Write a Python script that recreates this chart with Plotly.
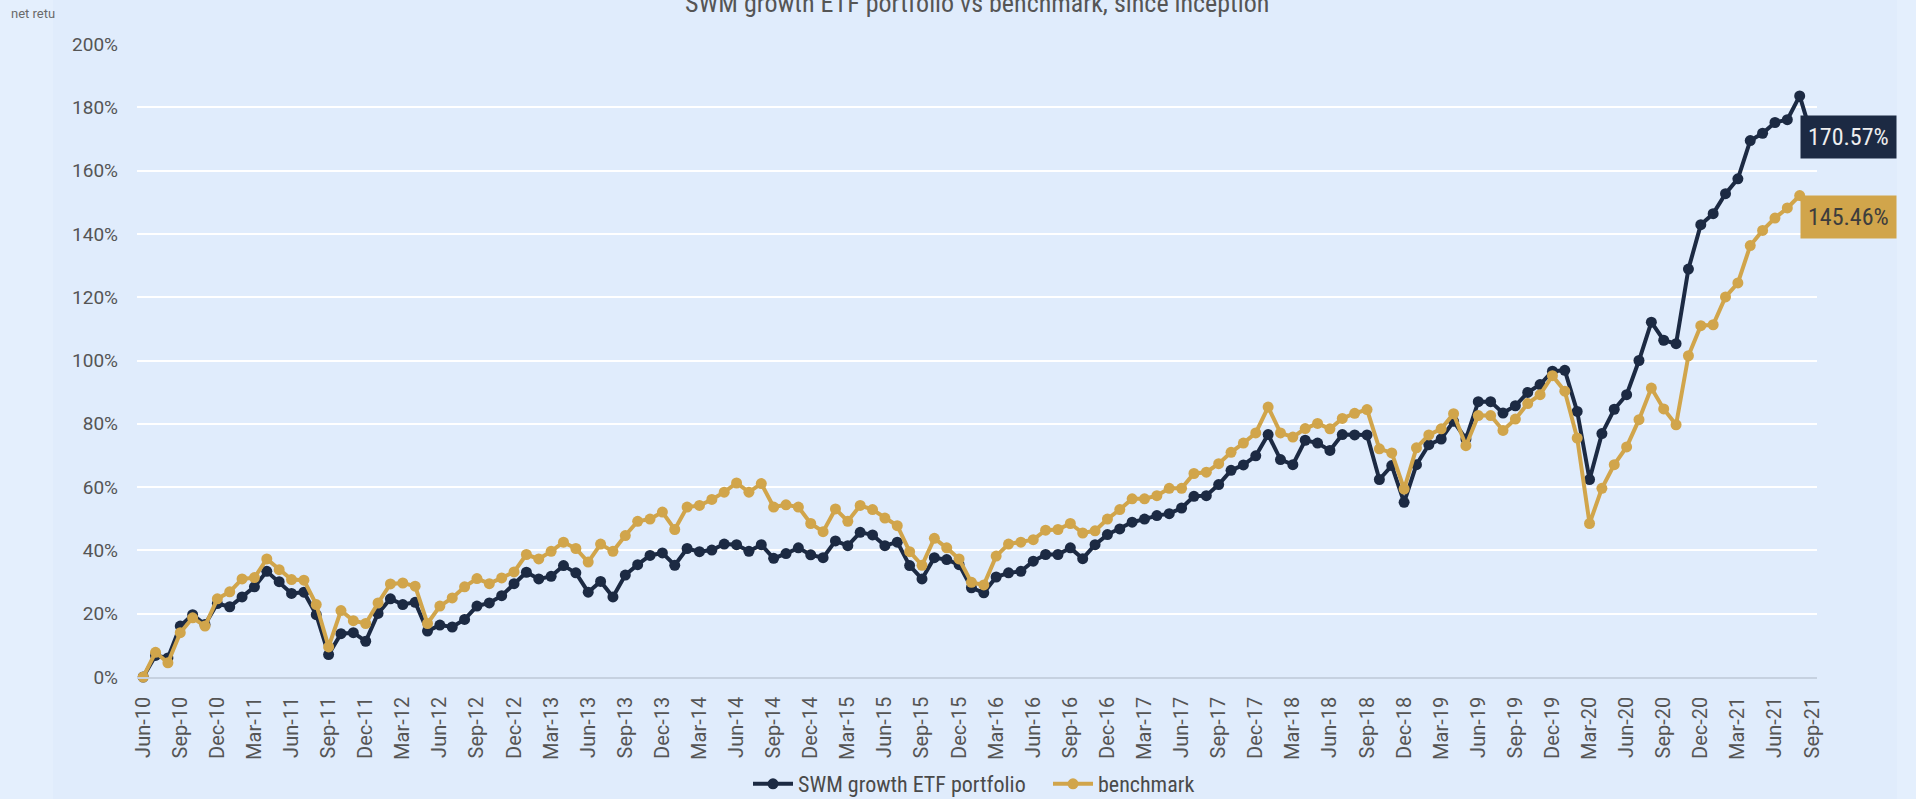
import pandas as pd
import plotly.graph_objects as go

months = list(pd.date_range("2010-06-01", periods=136, freq="MS").strftime("%b-%y"))
tick_labels = months[::3]

swm = [
    0, 6.8, 6.0, 16.1, 19.7, 16.6, 23.2, 22.2, 25.3, 28.5,
    33.4, 30.1, 26.4, 26.8, 19.7, 7.1, 13.7, 14.0, 11.3, 20.1,
    24.7, 22.9, 23.6, 14.5, 16.4, 15.8, 18.2, 22.4, 23.4, 25.7,
    29.5, 33.1, 31.0, 31.8, 35.2, 32.9, 26.8, 30.2, 25.3, 32.2,
    35.5, 38.4, 39.2, 35.3, 40.6, 39.6, 40.1, 42.0, 41.8, 39.7,
    41.8, 37.5, 39.0, 40.8, 38.6, 37.7, 43.0, 41.5, 45.7, 44.9,
    41.5, 42.6, 35.2, 31.0, 37.7, 37.1, 35.5, 28.2, 26.6, 31.6,
    32.9, 33.4, 36.6, 38.7, 38.7, 40.8, 37.4, 41.8, 45.0, 46.8,
    48.9, 49.9, 51.0, 51.6, 53.4, 57.1, 57.3, 60.8, 65.3, 67.0,
    69.9, 76.6, 68.7, 67.1, 74.8, 73.9, 71.6, 76.6, 76.5, 76.5,
    62.4, 66.8, 55.2, 67.1, 73.4, 75.2, 80.8, 75.2, 87.0, 87.0,
    83.4, 85.7, 89.9, 92.4, 96.6, 96.9, 83.9, 62.4, 76.9, 84.6,
    89.2, 100.0, 112.1, 106.4, 105.3, 128.9, 142.9, 146.4, 152.7, 157.4,
    169.5, 171.8, 175.2, 176.1, 183.6, 170.57,
]

benchmark = [
    0, 7.8, 4.5, 14.0, 18.7, 16.1, 24.7, 26.9, 31.0, 31.4,
    37.3, 33.9, 30.8, 30.6, 22.9, 9.5, 21.0, 17.8, 16.9, 23.4,
    29.4, 29.7, 28.7, 16.9, 22.4, 25.0, 28.5, 31.1, 29.5, 31.3,
    33.2, 38.7, 37.3, 39.7, 42.6, 40.6, 36.3, 42.0, 39.7, 44.7,
    49.2, 49.9, 52.1, 46.6, 53.7, 54.2, 56.1, 58.4, 61.3, 58.4,
    61.1, 53.7, 54.4, 53.7, 48.5, 45.9, 53.1, 49.2, 54.2, 52.9,
    50.2, 47.8, 39.6, 35.3, 43.8, 40.8, 37.3, 29.9, 29.1, 38.2,
    42.0, 42.6, 43.4, 46.4, 46.6, 48.5, 45.5, 46.2, 49.9, 52.9,
    56.3, 56.3, 57.3, 59.6, 59.6, 64.3, 64.7, 67.4, 71.0, 73.9,
    77.1, 85.3, 77.1, 75.8, 78.5, 80.1, 78.4, 81.7, 83.3, 84.5,
    72.1, 70.8, 59.4, 72.4, 76.5, 78.4, 83.2, 73.1, 82.6, 82.6,
    77.9, 81.5, 86.4, 89.2, 95.2, 90.3, 75.5, 48.5, 59.6, 67.1,
    72.7, 81.3, 91.3, 84.7, 79.7, 101.5, 111.0, 111.3, 120.1, 124.5,
    136.3, 141.1, 145.0, 148.2, 152.1, 145.46,
]

BG = "#e0ecfc"
STRIP = "#e4effd"
DARK = "#1c2a43"
GOLD = "#d1a54b"
NARROW = "Liberation Sans Narrow, Roboto Condensed, DejaVu Sans Condensed, Roboto, sans-serif"
TICKF = "Roboto, sans-serif"

W, H = 1916, 799
L, R, T, B = 137, 99, 44, 122
PW, PH = W - L - R, H - T - B


def px_x(px):
    return (px - L) / PW


def px_y(py):
    return (H - B - py) / PH


fig = go.Figure()
fig.add_trace(go.Scatter(
    x=months, y=swm, name="SWM growth ETF portfolio", mode="lines+markers",
    line=dict(color=DARK, width=4), marker=dict(color=DARK, size=11),
    cliponaxis=False, hoverinfo="skip"))
fig.add_trace(go.Scatter(
    x=months, y=benchmark, name="benchmark", mode="lines+markers",
    line=dict(color=GOLD, width=4), marker=dict(color=GOLD, size=11),
    cliponaxis=False, hoverinfo="skip"))

fig.update_layout(
    width=W, height=H,
    paper_bgcolor=BG, plot_bgcolor=BG,
    margin=dict(l=L, r=R, t=T, b=B, autoexpand=False),
    showlegend=True,
    legend=dict(orientation="h", x=px_x(748), xanchor="left", xref="paper",
                y=px_y(784), yref="paper", yanchor="middle",
                font=dict(family=NARROW, size=22, color="#4a4a4a"),
                bgcolor="rgba(0,0,0,0)", itemwidth=40,
                entrywidth=245, entrywidthmode="pixels"),
    xaxis=dict(type="category", range=[-0.5, 135.4], automargin=False,
               tickmode="array", tickvals=tick_labels, ticktext=tick_labels,
               tickangle=-90, tickfont=dict(family=TICKF, size=20, color="#555555"),
               showgrid=False, showline=True, linecolor="#c6d1e0", linewidth=1.5,
               ticks="", ticklabelstandoff=10, zeroline=False),
    yaxis=dict(range=[0, 200], dtick=20, ticksuffix="%", automargin=False,
               tickfont=dict(family=TICKF, size=19, color="#555555"),
               showgrid=True, gridcolor="#ffffff", gridwidth=1.5,
               zeroline=False, showline=False, ticks="", ticklabelstandoff=18),
    shapes=[
        dict(type="rect", xref="paper", yref="paper", layer="below",
             x0=px_x(0), x1=px_x(53), y0=px_y(H), y1=px_y(0),
             fillcolor=STRIP, line=dict(width=0)),
        dict(type="rect", xref="paper", yref="paper", layer="below",
             x0=px_x(1897), x1=px_x(W), y0=px_y(H), y1=px_y(0),
             fillcolor=STRIP, line=dict(width=0)),
    ],
    annotations=[
        dict(text="SWM growth ETF portfolio vs benchmark, since inception",
             xref="paper", yref="paper", x=0.5, y=px_y(3),
             xanchor="center", yanchor="middle", showarrow=False,
             font=dict(family=NARROW, size=26, color="#555555")),
        dict(text="net retu", xref="paper", yref="paper",
             x=px_x(9), y=px_y(14),
             xanchor="left", yanchor="middle", showarrow=False,
             font=dict(family=TICKF, size=13, color="#6a6a6a")),
        dict(x=months[-1], y=swm[-1], xref="x", yref="y",
             text=f"{swm[-1]:.2f}%", showarrow=False,
             xanchor="left", yanchor="middle", xshift=-12,
             bgcolor=DARK, borderpad=7,
             font=dict(family=NARROW, size=24, color="#eeeeee")),
        dict(x=months[-1], y=benchmark[-1], xref="x", yref="y",
             text=f"{benchmark[-1]:.2f}%", showarrow=False,
             xanchor="left", yanchor="middle", xshift=-12,
             bgcolor=GOLD, borderpad=7,
             font=dict(family=NARROW, size=24, color="#3d3d3d")),
    ],
)

fig.write_html("out.html", config={"displayModeBar": False},
               post_script="document.body.style.margin='0px';document.body.style.overflow='hidden';")
